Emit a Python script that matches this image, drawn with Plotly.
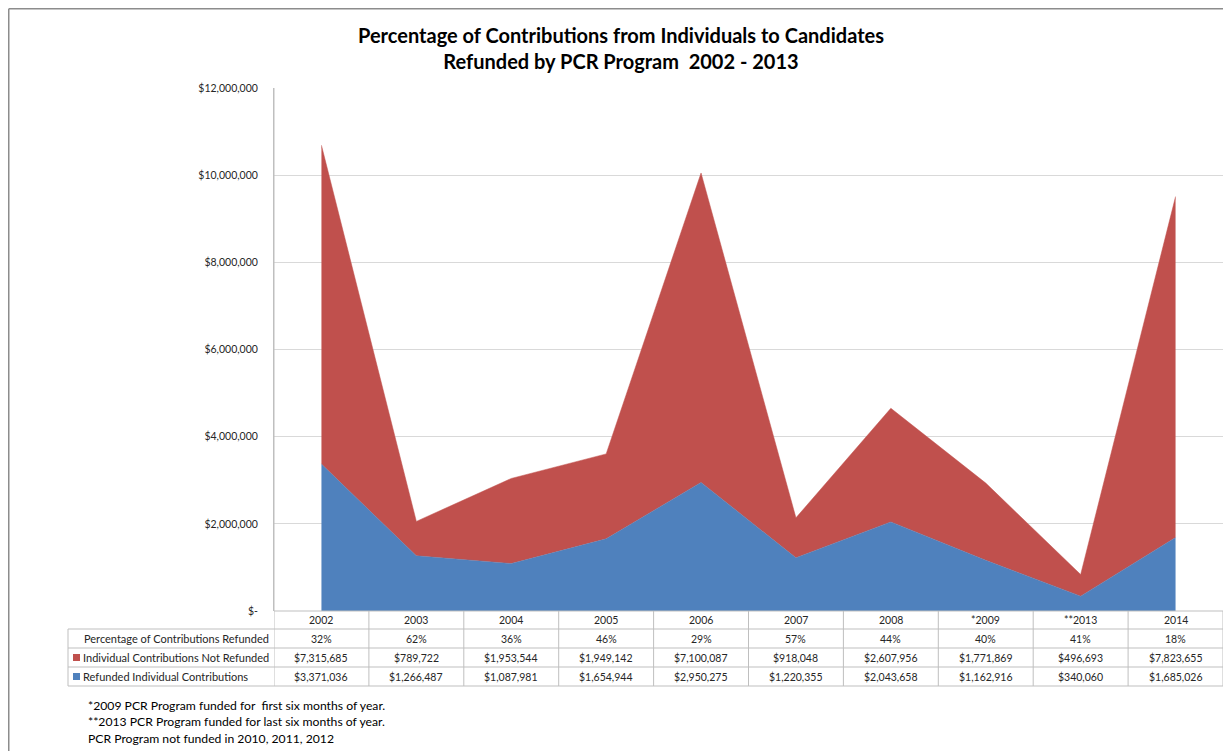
import plotly.graph_objects as go

years = ["2002", "2003", "2004", "2005", "2006", "2007", "2008", "*2009", "**2013", "2014"]
pct_refunded = [32, 62, 36, 46, 29, 57, 44, 40, 41, 18]
not_refunded = [7315685, 789722, 1953544, 1949142, 7100087, 918048, 2607956, 1771869, 496693, 7823655]
refunded = [3371036, 1266487, 1087981, 1654944, 2950275, 1220355, 2043658, 1162916, 340060, 1685026]
y_ticks = [0, 2000000, 4000000, 6000000, 8000000, 10000000, 12000000]
y_ticktext = ["$-", "$2,000,000", "$4,000,000", "$6,000,000", "$8,000,000", "$10,000,000", "$12,000,000"]
footnotes = [
    "*2009 PCR Program funded for&#160; first six months of year.",
    "**2013 PCR Program funded for last six months of year.",
    "PCR Program not funded in 2010, 2011, 2012",
]

BLUE = "#4F81BD"
RED = "#C0504D"
FONT = "Lato"
TXT = "#262626"
GRID = "#D9D9D9"
TBL = "#BFBFBF"

OFF = 8  # browser body margin
W, H = 1231 - OFF, 751 - OFF
# screen-pixel geometry of the plot area
L, R, T, B = 274, 1223, 88, 611
PW, PH = R - L, B - T


def px(x):
    return (x - L) / PW


def py(y):
    return (B - y) / PH


fig = go.Figure()
fig.add_trace(go.Scatter(x=years, y=refunded, stackgroup="one", mode="lines",
                         line=dict(width=0.5, color=BLUE), fillcolor=BLUE,
                         name="Refunded Individual Contributions"))
fig.add_trace(go.Scatter(x=years, y=not_refunded, stackgroup="one", mode="lines",
                         line=dict(width=0.5, color=RED), fillcolor=RED,
                         name="Individual Contributions Not Refunded"))

shapes = []
ann = []

row_y = [611, 629, 648, 667, 686]
label_left = 68
n = len(years)

shapes.append(dict(type="line", xref="paper", yref="paper", x0=px(L), x1=px(R), y0=py(row_y[0]), y1=py(row_y[0]), line=dict(color=TBL, width=1)))
for yy in row_y[1:]:
    shapes.append(dict(type="line", xref="paper", yref="paper", x0=px(label_left), x1=px(R), y0=py(yy), y1=py(yy), line=dict(color=TBL, width=1)))
shapes.append(dict(type="line", xref="paper", yref="paper", x0=px(label_left), x1=px(label_left), y0=py(row_y[1]), y1=py(row_y[-1]), line=dict(color=TBL, width=1)))
for i in range(n + 1):
    shapes.append(dict(type="line", xref="x", yref="paper", x0=i - 0.5, x1=i - 0.5,
                       y0=py(row_y[0]) if i > 0 else 1, y1=py(row_y[-1]), line=dict(color=TBL, width=1)))


def mid(a, b):
    return py((row_y[a] + row_y[b]) / 2)


fsz = 10.5
cell = dict(family=FONT, size=fsz, color=TXT)
for i, yr in enumerate(years):
    ann.append(dict(x=i, y=mid(0, 1), xref="x", yref="paper", xanchor="center", yanchor="middle", text=yr, showarrow=False, font=cell))
    ann.append(dict(x=i, y=mid(1, 2), xref="x", yref="paper", xanchor="center", yanchor="middle", text=f"{pct_refunded[i]}%", showarrow=False, font=cell))
    ann.append(dict(x=i, y=mid(2, 3), xref="x", yref="paper", xanchor="center", yanchor="middle", text=f"${not_refunded[i]:,}", showarrow=False, font=cell))
    ann.append(dict(x=i, y=mid(3, 4), xref="x", yref="paper", xanchor="center", yanchor="middle", text=f"${refunded[i]:,}", showarrow=False, font=cell))

lab = dict(family=FONT, size=11, color=TXT)
ann.append(dict(x=px(271), y=mid(1, 2), xref="paper", yref="paper", xanchor="right", yanchor="middle", text="Percentage of Contributions Refunded", showarrow=False, font=lab))
ann.append(dict(x=px(81), y=mid(2, 3), xref="paper", yref="paper", xanchor="left", yanchor="middle", text="Individual Contributions Not Refunded", showarrow=False, font=lab))
ann.append(dict(x=px(81), y=mid(3, 4), xref="paper", yref="paper", xanchor="left", yanchor="middle", text="Refunded Individual Contributions", showarrow=False, font=lab))
for k, col in [(2, RED), (3, BLUE)]:
    yc = (row_y[k] + row_y[k + 1]) / 2
    shapes.append(dict(type="rect", xref="paper", yref="paper", x0=px(73), x1=px(80), y0=py(yc - 3.5), y1=py(yc + 3.5), fillcolor=col, line=dict(width=0)))

for j, t in enumerate(footnotes):
    ann.append(dict(x=px(86), y=py(705 + 16.5 * j), xref="paper", yref="paper", xanchor="left", yanchor="middle", text=t, showarrow=False, font=dict(family=FONT, size=12.2, color="#000000")))

# outer frame
shapes.append(dict(type="line", xref="paper", yref="paper", x0=px(8.75), x1=px(1240), y0=py(8.75), y1=py(8.75), line=dict(color="#8C8C8C", width=1.5)))
shapes.append(dict(type="line", xref="paper", yref="paper", x0=px(8.75), x1=px(8.75), y0=py(8.75), y1=py(760), line=dict(color="#8C8C8C", width=1.5)))

fig.update_layout(
    width=W, height=H,
    margin=dict(l=L - OFF, r=W + OFF - R, t=T - OFF, b=H + OFF - B),
    paper_bgcolor="white", plot_bgcolor="white",
    showlegend=False,
    title=dict(text="<b>Percentage of Contributions from Individuals to Candidates<br>Refunded by PCR Program&#160; 2002 - 2013</b>",
               x=(621 - OFF) / W, xanchor="center", y=1 - (43 - OFF) / H, yanchor="middle", xref="container", yref="container",
               font=dict(family=FONT, size=20, color="#000000")),
    xaxis=dict(type="category", range=[-0.5, n - 0.5], showticklabels=False, showgrid=False, zeroline=False,
               showline=False, ticks=""),
    yaxis=dict(range=[0, 12000000], tickvals=y_ticks, ticktext=y_ticktext, showgrid=True, gridcolor=GRID,
               gridwidth=1, zeroline=False, showline=True, linecolor=TBL, linewidth=1, ticks="",
               ticklabelstandoff=13, tickfont=dict(family=FONT, size=10.5, color=TXT)),
    shapes=shapes, annotations=ann,
)

fig.write_html("out.html")
